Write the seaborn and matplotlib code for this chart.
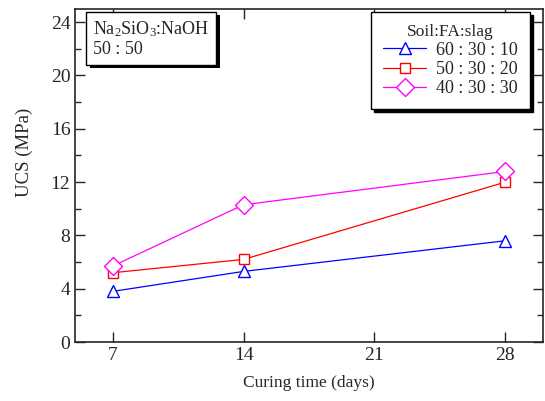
import matplotlib
matplotlib.use("Agg")
import matplotlib.pyplot as plt
import matplotlib.patheffects as pe
import pandas as pd
import seaborn as sns

days = [7, 14, 28]
series_labels = ["60 : 30 : 10", "50 : 30 : 20", "40 : 30 : 30"]
ucs_60_30_10 = [3.8, 5.3, 7.6]
ucs_50_30_20 = [5.2, 6.2, 12.0]
ucs_40_30_30 = [5.7, 10.3, 12.8]
colors = ["#0000ff", "#ff0000", "#ff00ff"]
markers = ["^", "s", "D"]
marker_sizes = [8.5, 7.5, 9]

sns.set_theme(style="ticks")
plt.rcParams["font.family"] = ["Liberation Serif", "DejaVu Serif"]
plt.rcParams["mathtext.fontset"] = "custom"
plt.rcParams["mathtext.rm"] = "Liberation Serif"
plt.rcParams["mathtext.it"] = "Liberation Serif:italic"

df = pd.DataFrame({
    "days": days * 3,
    "ucs": ucs_60_30_10 + ucs_50_30_20 + ucs_40_30_30,
    "mix": [s for s in series_labels for _ in days],
})

fig, ax = plt.subplots(figsize=(5.45, 4.01), dpi=100)
fig.subplots_adjust(left=0.138, right=0.996, top=0.978, bottom=0.147)

for label, color, marker, ms in zip(series_labels, colors, markers, marker_sizes):
    sub = df[df["mix"] == label]
    sns.lineplot(data=sub, x="days", y="ucs", ax=ax, color=color, marker=marker,
                 markersize=ms, markerfacecolor="white", markeredgecolor=color,
                 markeredgewidth=1.0, linewidth=0.9, label=label)

ax.set_xlim(5, 30)
ax.set_ylim(0, 25)
ax.set_xticks([7, 14, 21, 28])
ax.set_yticks([0, 4, 8, 12, 16, 20, 24])
ax.set_yticks([2, 6, 10, 14, 18, 22], minor=True)
ax.tick_params(which="both", direction="in", top=True, right=True, labelsize=14, width=1.0)
ax.tick_params(which="major", length=7)
ax.tick_params(which="minor", length=4)
for sp in ax.spines.values():
    sp.set_linewidth(1.2)
ax.set_xlabel("Curing time (days)", fontsize=12.5, labelpad=8)
ax.set_ylabel("UCS (MPa)", fontsize=13.5)
ax.yaxis.set_label_coords(-0.09, 0.57)

leg = ax.legend(title="Soil:FA:slag", loc="upper right", bbox_to_anchor=(0.972, 0.991),
                fontsize=13, title_fontsize=12.5,
                frameon=True, fancybox=False, edgecolor="black", framealpha=1,
                shadow={"color": "black", "alpha": 1}, borderaxespad=0,
                handlelength=2.4, handletextpad=0.55, labelspacing=0.12, borderpad=0.65)
leg.get_frame().set_linewidth(1.0)

txt = ax.text(0.038, 0.968, "Na$_2$SiO$_3$:NaOH\n50 : 50", transform=ax.transAxes,
              fontsize=13, va="top", ha="left", linespacing=1.15,
              bbox=dict(boxstyle="square,pad=0.38", facecolor="white", edgecolor="black", linewidth=1.0))
txt.get_bbox_patch().set_path_effects([
    pe.SimplePatchShadow(offset=(2.5, -2.5), shadow_rgbFace="black", alpha=1),
    pe.Normal(),
])

fig.savefig("out.png", dpi=100)
